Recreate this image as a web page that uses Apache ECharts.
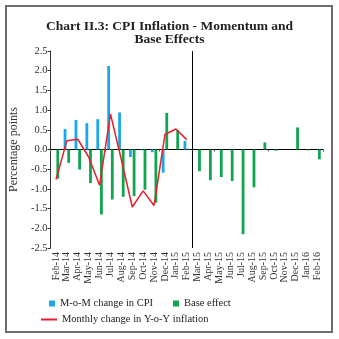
<!DOCTYPE html>
<html>
<head>
<meta charset="utf-8">
<script src="https://cdn.jsdelivr.net/npm/echarts@6/dist/echarts.min.js"></script>
<style>
html,body{margin:0;padding:0;background:#fff;}
#chart{width:339px;height:339px;}
</style>
</head>
<body>
<div id="chart"></div>
<script>
var categories = ['Feb-14','Mar-14','Apr-14','May-14','Jun-14','Jul-14','Aug-14','Sep-14','Oct-14','Nov-14','Dec-14','Jan-15','Feb-15','Mar-15','Apr-15','May-15','Jun-15','Jul-15','Aug-15','Sep-15','Oct-15','Nov-15','Dec-15','Jan-16','Feb-16'];
var momChange = [0, 0.52, 0.75, 0.67, 0.77, 2.12, 0.94, -0.19, -0.02, -0.07, -0.59, 0, 0.22, null, null, null, null, null, null, null, null, null, null, null, null];
var baseEffect = [-0.74, -0.34, -0.51, -0.85, -1.65, -1.27, -1.2, -1.18, -1.02, -1.35, 0.93, 0.49, 0.02, -0.55, -0.78, -0.70, -0.80, -2.15, -0.96, 0.18, -0.03, 0, 0.56, -0.02, -0.25];
var yoyChange = [-0.76, 0.22, 0.26, -0.19, -0.91, 0.90, -0.26, -1.46, -1.05, -1.42, 0.38, 0.52, 0.25, null, null, null, null, null, null, null, null, null, null, null, null];
var yTicks = {min: -2.5, max: 2.5, interval: 0.5};
var breakIndex = 13;

var serif = 'Liberation Serif';
var chart = echarts.init(document.getElementById('chart'), null, {renderer: 'canvas'});
chart.setOption({
  animation: false,
  backgroundColor: '#fff',
  title: {
    text: 'Chart II.3: CPI Inflation - Momentum and\nBase Effects',
    left: 'center',
    top: 15,
    textStyle: {fontFamily: serif, fontWeight: 'bold', fontSize: 13.5, lineHeight: 13, color: '#222'}
  },
  graphic: [{
    type: 'rect', silent: true,
    shape: {x: 6, y: 6, width: 326, height: 326},
    style: {fill: 'none', stroke: '#6e6e6e', lineWidth: 2}
  }],
  legend: [{
    left: 44, top: 293,
    itemWidth: 6, itemHeight: 6, itemGap: 20,
    icon: 'rect',
    data: ['M-o-M change in CPI', 'Base effect'],
    textStyle: {fontFamily: serif, fontSize: 10.5, color: '#222'}
  }, {
    left: 36, top: 309,
    itemWidth: 16, itemHeight: 2,
    icon: 'rect',
    data: ['Monthly change in Y-o-Y inflation'],
    textStyle: {fontFamily: serif, fontSize: 10.5, color: '#222'}
  }],
  grid: {left: 50, right: 16, top: 51, bottom: 91, containLabel: false},
  xAxis: [{
    type: 'category', data: categories, gridIndex: 0,
    axisLine: {show: false, onZero: false},
    axisTick: {show: false},
    axisLabel: {rotate: 90, interval: 0, fontFamily: serif, fontSize: 10, color: '#333', margin: 4}
  }, {
    type: 'category', data: categories, gridIndex: 0,
    position: 'bottom',
    axisLine: {show: true, onZero: true, lineStyle: {color: '#000', width: 1}},
    axisTick: {show: true, length: 2, lineStyle: {color: '#555'}},
    axisLabel: {show: false}
  }, {
    type: 'value', min: 0, max: categories.length, show: false, gridIndex: 0
  }],
  yAxis: {
    type: 'value', min: yTicks.min, max: yTicks.max, interval: yTicks.interval,
    name: 'Percentage points', nameLocation: 'middle', nameGap: 25,
    nameTextStyle: {fontFamily: serif, fontSize: 12, color: '#333'},
    axisLine: {show: true, onZero: false, lineStyle: {color: '#333'}},
    axisTick: {show: true, length: 3, lineStyle: {color: '#333'}},
    axisLabel: {fontFamily: serif, fontSize: 10.5, color: '#333', margin: 3,
      formatter: function (v) { return v.toFixed(1); }},
    splitLine: {show: false}
  },
  series: [{
    name: 'M-o-M change in CPI', type: 'bar', xAxisIndex: 0,
    data: momChange, barWidth: 2.8, barGap: '30%',
    itemStyle: {color: '#1aa8e6'}
  }, {
    name: 'Base effect', type: 'bar', xAxisIndex: 0,
    data: baseEffect, barWidth: 2.8, barGap: '30%',
    itemStyle: {color: '#10a550'}
  }, {
    name: 'Monthly change in Y-o-Y inflation', type: 'line', xAxisIndex: 0,
    data: yoyChange, showSymbol: false, symbol: 'none',
    lineStyle: {color: '#e8202a', width: 1.5},
    itemStyle: {color: '#e8202a'}
  }, {
    name: 'break', type: 'line', xAxisIndex: 2, data: [],
    markLine: {
      silent: true, symbol: 'none', label: {show: false},
      lineStyle: {color: '#000', width: 1, type: 'solid'},
      data: [{xAxis: breakIndex}]
    }
  }]
});
</script>
</body>
</html>
